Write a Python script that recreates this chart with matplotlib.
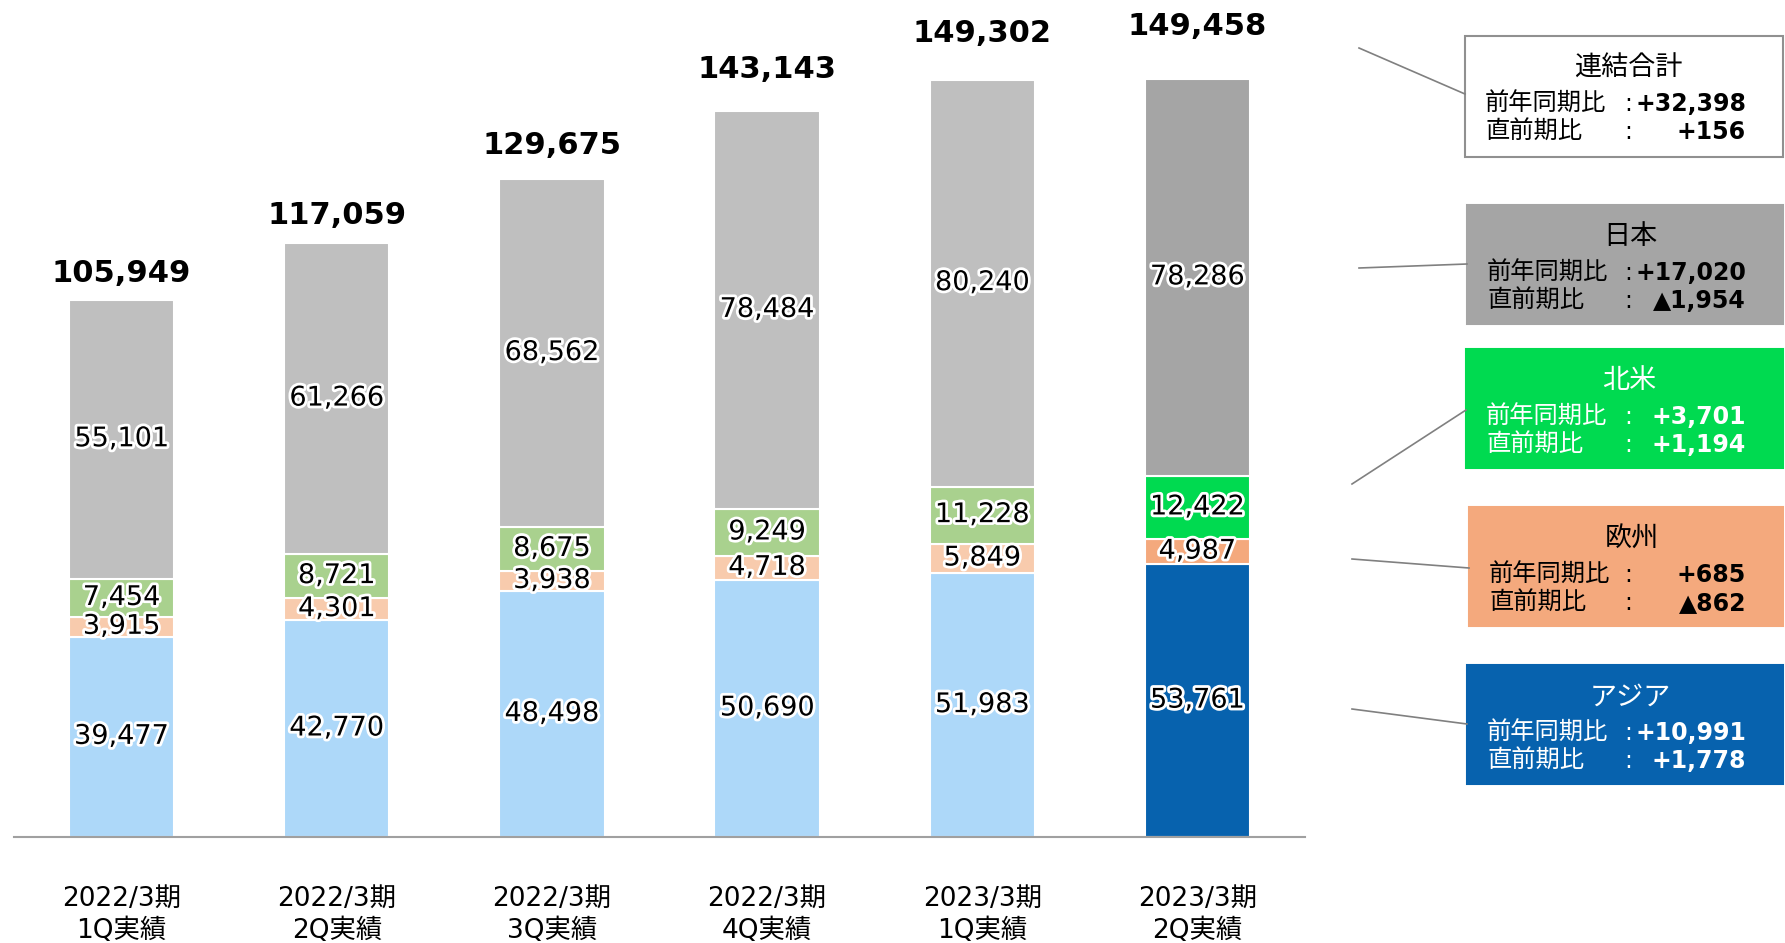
import numpy as np
import matplotlib
matplotlib.use('Agg')
import matplotlib.pyplot as plt
import matplotlib.patheffects as pe
from matplotlib.patches import Rectangle
from matplotlib.lines import Line2D

plt.rcParams['font.family'] = ['DejaVu Sans', 'Noto Sans CJK JP']

# data
periods = ['2022/3期\n1Q実績', '2022/3期\n2Q実績', '2022/3期\n3Q実績',
           '2022/3期\n4Q実績', '2023/3期\n1Q実績', '2023/3期\n2Q実績']
asia = [39477, 42770, 48498, 50690, 51983, 53761]
europe = [3915, 4301, 3938, 4718, 5849, 4987]
north_america = [7454, 8721, 8675, 9249, 11228, 12422]
japan = [55101, 61266, 68562, 78484, 80240, 78286]
totals = [105949, 117059, 129675, 143143, 149302, 149458]

# callout boxes: title, yoy, qoq
box_titles = ['連結合計', '日本', '北米', '欧州', 'アジア']
box_yoy = ['+32,398', '+17,020', '+3,701', '+685', '+10,991']
box_qoq = ['+156', '▲1,954', '+1,194', '▲862', '+1,778']

# colours (light for past quarters, strong for latest)
c_asia = ['#ADD8F9'] * 5 + ['#0762AE']
c_eu = ['#F8CBAD'] * 5 + ['#F4A97D']
c_na = ['#A9D18E'] * 5 + ['#00DA50']
c_jp = ['#BFBFBF'] * 5 + ['#A5A5A5']

# gap (points) between bar top and total label, as in the original slide
total_pad = [8.5, 9.5, 14, 19, 22.5, 27]

W, H = 1785, 943
fig = plt.figure(figsize=(W / 100, H / 100), dpi=100)
ax = fig.add_axes([14 / W, 1 - 837 / H, (1305 - 14) / W, 837 / H])

x = np.arange(len(periods))
bw = 0.49
glow = [pe.withStroke(linewidth=4, foreground='white')]

bottom = np.zeros(len(x))
for vals, cols in [(asia, c_asia), (europe, c_eu), (north_america, c_na), (japan, c_jp)]:
    vals = np.array(vals)
    ax.bar(x, vals, bw, bottom=bottom, color=cols, edgecolor='white', linewidth=1.5)
    for xi, b, v in zip(x, bottom, vals):
        ax.text(xi, b + v / 2, f'{v:,}', ha='center', va='center', fontsize=19.5,
                color='black', path_effects=glow)
    bottom += vals

for xi, t, p in zip(x, totals, total_pad):
    ax.annotate(f'{t:,}', (xi, t), xytext=(0, p), textcoords='offset points',
                ha='center', va='bottom', fontsize=22, fontweight='bold')

ax.set_xlim(-0.5, 5.5)
ax.set_ylim(0, 165000)
for s in ['top', 'right', 'left']:
    ax.spines[s].set_visible(False)
ax.spines['bottom'].set_color('#A0A0A0')
ax.spines['bottom'].set_linewidth(1.5)
ax.set_yticks([])
ax.set_xticks(x)
ax.set_xticklabels(periods, fontsize=19, linespacing=1.3)
ax.tick_params(axis='x', length=0, pad=35)

# callout boxes (pixel geometry)
boxes = [(1465, 36, 157), (1467, 205, 324), (1466, 349, 468), (1469, 507, 626), (1467, 665, 784)]
face = ['white', '#A5A5A5', '#00DA50', '#F4A97D', '#0762AE']
txtc = ['black', 'black', 'white', 'black', 'white']
lines = [((1359, 48), (1465, 94)), ((1359, 268), (1467, 264)), ((1352, 484), (1466, 410)),
         ((1352, 559), (1469, 568)), ((1352, 709), (1467, 724))]

def fx(p):
    return p / W

def fy(p):
    return 1 - p / H

for i, (x0, y0, y1) in enumerate(boxes):
    ec = '#909090' if i == 0 else face[i]
    fig.patches.append(Rectangle((fx(x0), fy(y1)), fx(W - 2 - x0), (y1 - y0) / H,
                                 transform=fig.transFigure, facecolor=face[i],
                                 edgecolor=ec, linewidth=1.5))
    (a, b), (c, d) = lines[i]
    fig.add_artist(Line2D([fx(a), fx(c)], [fy(b), fy(d)], color='#808080', linewidth=1.2))
    c0 = txtc[i]
    fig.text(fx(x0 + 163), fy(y0 + 32), box_titles[i], ha='center', va='center',
             fontsize=19.5, color=c0, family=['Noto Sans CJK JP'])
    fig.text(fx(x0 + 20), fy(y0 + 68), '前年同期比', ha='left', va='center',
             fontsize=17.5, color=c0, family=['Noto Sans CJK JP'])
    fig.text(fx(x0 + 20), fy(y0 + 96), '直前期比', ha='left', va='center',
             fontsize=17.5, color=c0, family=['Noto Sans CJK JP'])
    fig.text(fx(1628), fy(y0 + 68), ':', ha='center', va='center', fontsize=17, color=c0)
    fig.text(fx(1628), fy(y0 + 96), ':', ha='center', va='center', fontsize=17, color=c0)
    fig.text(fx(1746), fy(y0 + 68), box_yoy[i], ha='right', va='center',
             fontsize=17, fontweight='bold', color=c0)
    fig.text(fx(1746), fy(y0 + 96), box_qoq[i], ha='right', va='center',
             fontsize=17, fontweight='bold', color=c0)

fig.savefig('out.png', dpi=100)
